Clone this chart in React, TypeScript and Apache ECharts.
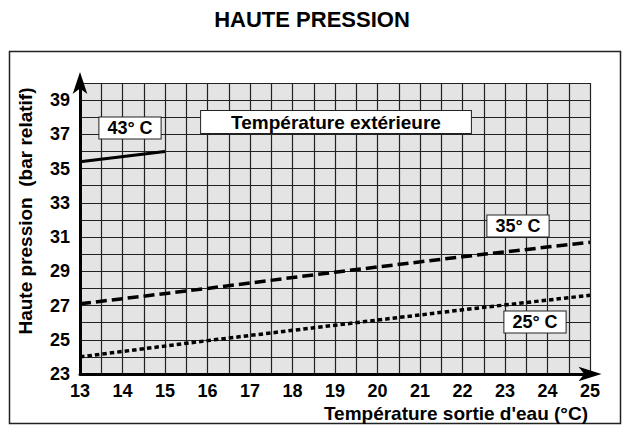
import React, { useEffect, useRef } from "react";
import * as echarts from "echarts";

// Température sortie d'eau (°C)
const waterTemps43 = [13, 15];
const pressure43 = [35.4, 36.0];
const waterTemps35 = [13, 16, 19, 22, 25];
const pressure35 = [27.1, 28.0, 28.95, 29.85, 30.7];
const waterTemps25 = [13, 16, 19, 22, 25];
const pressure25 = [24.0, 24.95, 25.85, 26.75, 27.6];

const xTicks = [13, 14, 15, 16, 17, 18, 19, 20, 21, 22, 23, 24, 25];
const yTickLabels = [23, 25, 27, 29, 31, 33, 35, 37, 39];

const FONT = "'Liberation Sans', Arial, sans-serif";

const pairs = (xs: number[], ys: number[]) => xs.map((x, i) => [x, ys[i]]);

const boxLabel = (text: string, x: number, y: number, size = 18, padX = 8) => ({
  type: "text",
  x,
  y,
  style: {
    text,
    font: `bold ${size}px ${FONT}`,
    fill: "#000",
    align: "center",
    verticalAlign: "middle",
    backgroundColor: "#fff",
    borderColor: "#222",
    borderWidth: 1,
    padding: [2, padX, 1, padX],
  },
  z: 100,
});

const App: React.FC = () => {
  const chartRef = useRef<HTMLDivElement>(null);

  useEffect(() => {
    if (!chartRef.current) return;
    const chart = echarts.init(chartRef.current, null, { renderer: "svg" });

    const axisText = { color: "#000", fontWeight: "bold" as const, fontSize: 18, fontFamily: FONT };

    chart.setOption({
      animation: false,
      backgroundColor: "#fff",
      title: {
        text: "HAUTE PRESSION",
        left: "center",
        top: 3,
        textStyle: { color: "#000", fontWeight: "bold", fontSize: 22, fontFamily: FONT },
      },
      grid: {
        left: 80,
        right: 34,
        top: 83,
        bottom: 54,
        outerBoundsMode: "none",
        containLabel: false,
        show: true,
        backgroundColor: "#e4e4e4",
        borderWidth: 0,
      },
      xAxis: {
        type: "value",
        min: xTicks[0],
        max: xTicks[xTicks.length - 1],
        interval: 1,
        axisLine: {
          show: true,
          onZero: false,
          symbol: ["none", "arrow"],
          symbolSize: [11, 23],
          symbolOffset: [0, 11.5],
          lineStyle: { color: "#000", width: 3 },
        },
        axisTick: { show: false },
        axisLabel: { ...axisText, margin: 8 },
        splitLine: { show: true, lineStyle: { color: "#222", width: 1.2 } },
        minorTick: { show: false, splitNumber: 2 },
        minorSplitLine: { show: true, lineStyle: { color: "#222", width: 1.2 } },
      },
      yAxis: {
        type: "value",
        min: 23,
        max: 40,
        interval: 1,
        axisLine: {
          show: true,
          onZero: false,
          symbol: ["none", "arrow"],
          symbolSize: [11, 22],
          symbolOffset: [0, 11],
          lineStyle: { color: "#000", width: 3 },
        },
        axisTick: { show: false },
        axisLabel: {
          ...axisText,
          margin: 10,
          formatter: (v: number) => (yTickLabels.includes(v) ? String(v) : ""),
        },
        splitLine: { show: true, lineStyle: { color: "#222", width: 1.2 } },
      },
      series: [
        {
          name: "43° C",
          type: "line",
          data: pairs(waterTemps43, pressure43),
          symbol: "none",
          lineStyle: { color: "#000", width: 3 },
          z: 10,
        },
        {
          name: "35° C",
          type: "line",
          data: pairs(waterTemps35, pressure35),
          symbol: "none",
          lineStyle: { color: "#000", width: 3.5, type: [11, 5] },
          z: 10,
        },
        {
          name: "25° C",
          type: "line",
          data: pairs(waterTemps25, pressure25),
          symbol: "none",
          lineStyle: { color: "#000", width: 3.5, type: [4.5, 3] },
          z: 10,
        },
      ],
      graphic: [
        {
          type: "rect",
          shape: { x: 9.5, y: 51.5, width: 611, height: 372 },
          style: { fill: "none", stroke: "#222", lineWidth: 1.5 },
          z: 0,
          silent: true,
        },
        // axis titles
        {
          type: "text",
          x: 588,
          y: 413,
          style: {
            text: "Température sortie d'eau (°C)",
            font: `bold 19px ${FONT}`,
            fill: "#000",
            align: "right",
            verticalAlign: "middle",
          },
        },
        {
          type: "text",
          x: 25,
          y: 211,
          rotation: Math.PI / 2,
          style: {
            text: "Haute pression  (bar relatif)",
            font: `bold 19px ${FONT}`,
            fill: "#000",
            align: "center",
            verticalAlign: "middle",
          },
        },
        boxLabel("43° C", 130, 128),
        boxLabel("Température extérieure", 336, 122, 19, 30),
        boxLabel("35° C", 518, 226),
        boxLabel("25° C", 535, 322),
      ],
    });

    return () => chart.dispose();
  }, []);

  return (
    <div
      ref={chartRef}
      style={{ position: "absolute", left: 0, top: 0, width: 624, height: 428 }}
    />
  );
};

export default App;
